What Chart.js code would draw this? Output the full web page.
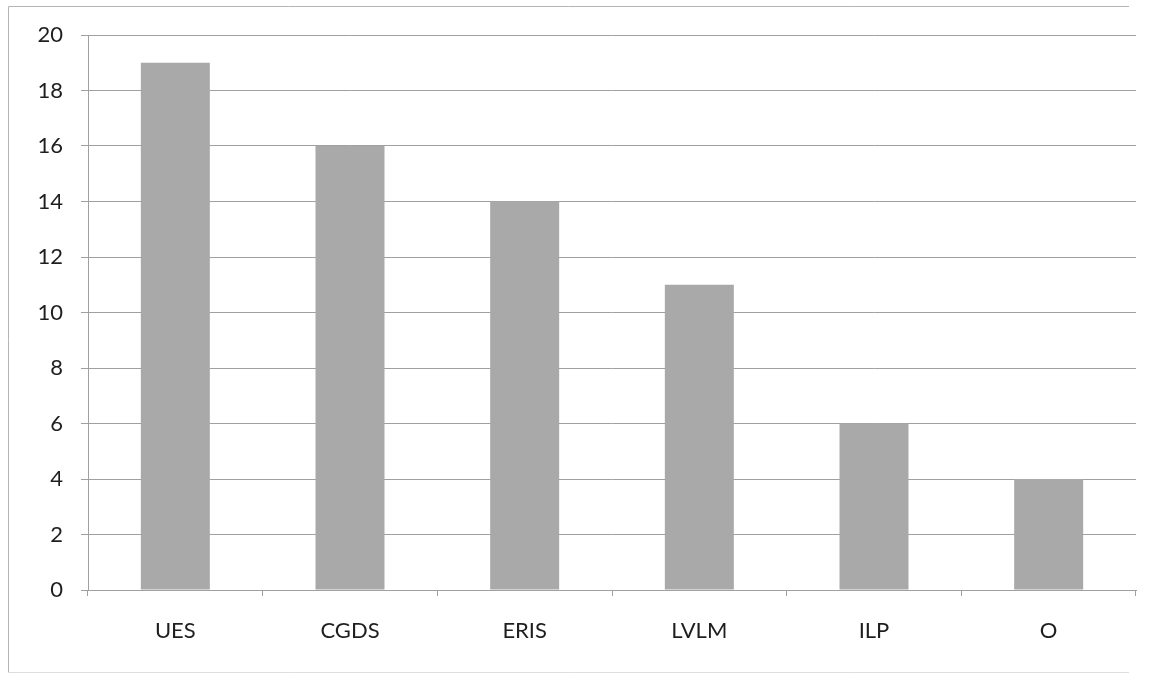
<!DOCTYPE html>
<html>
<head>
<meta charset="utf-8">
<script src="https://cdn.jsdelivr.net/npm/chart.js@4/dist/chart.umd.min.js"></script>
<style>
  html, body { margin: 0; padding: 0; background: #ffffff; }
  #wrap { width: 1154px; height: 675px; position: relative; }
</style>
</head>
<body>
<div id="wrap"><canvas id="c" width="1154" height="675"></canvas></div>
<script>
// Categories and counts
const categories = ['UES', 'CGDS', 'ERIS', 'LVLM', 'ILP', 'O'];
const counts = [19, 16, 14, 11, 6, 4];
// Value axis range
const yMin = 0;
const yMax = 20;
const yStep = 2;

// Thin frame around the whole chart
const framePlugin = {
  id: 'frame',
  beforeDraw(chart) {
    const ctx = chart.ctx;
    ctx.save();
    ctx.strokeStyle = '#b4b4b4';
    ctx.lineWidth = 1;
    ctx.beginPath();
    ctx.moveTo(1129, 6.5);
    ctx.lineTo(8.5, 6.5);
    ctx.lineTo(8.5, 672.5);
    ctx.stroke();
    ctx.strokeStyle = '#dedede';
    ctx.beginPath();
    ctx.moveTo(8.5, 672.5);
    ctx.lineTo(1129, 672.5);
    ctx.stroke();
    ctx.restore();
  }
};

new Chart(document.getElementById('c'), {
  type: 'bar',
  data: {
    labels: categories,
    datasets: [{
      data: counts,
      backgroundColor: '#a9a9a9',
      borderWidth: 0,
      categoryPercentage: 1.0,
      barPercentage: 0.395
    }]
  },
  options: {
    responsive: false,
    animation: false,
    devicePixelRatio: 1,
    layout: { padding: { left: 0, right: 18, top: 35, bottom: 0 } },
    plugins: {
      legend: { display: false },
      tooltip: { enabled: false }
    },
    scales: {
      x: {
        offset: true,
        grid: {
          offset: true,
          drawOnChartArea: false,
          drawTicks: true,
          tickLength: 6,
          color: '#a0a0a0'
        },
        border: { color: '#a0a0a0', width: 1 },
        ticks: {
          color: '#1e1e1e',
          font: { family: 'Lato', size: 22 },
          padding: 22
        },
        afterFit(scale) { scale.height = 85; }
      },
      y: {
        min: yMin,
        max: yMax,
        grid: {
          color: '#a0a0a0',
          lineWidth: 1,
          tickLength: 7
        },
        border: { color: '#a0a0a0', width: 1 },
        ticks: {
          stepSize: yStep,
          color: '#1e1e1e',
          font: { family: 'Lato', size: 22 },
          padding: 18
        },
        afterFit(scale) { scale.width = 88; }
      }
    }
  },
  plugins: [framePlugin]
});
</script>
</body>
</html>
